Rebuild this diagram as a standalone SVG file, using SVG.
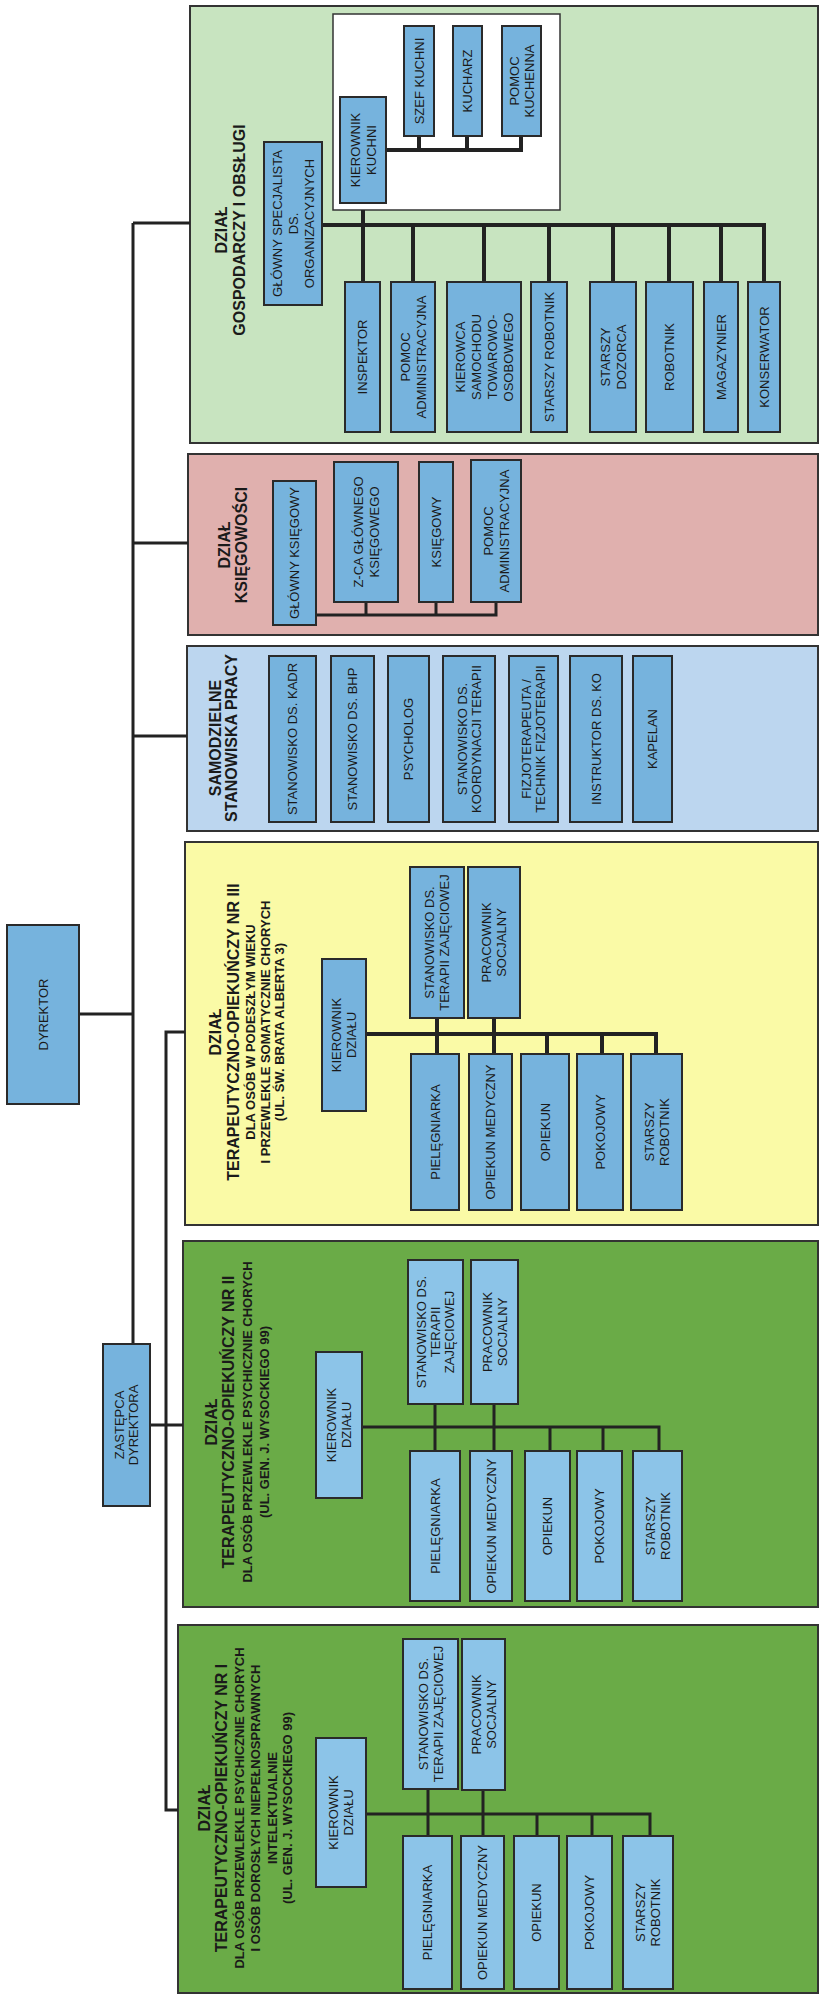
<svg xmlns="http://www.w3.org/2000/svg" width="820" height="1997" viewBox="0 0 820 1997">
<style>
.sec{stroke:#333;stroke-width:2}
.n{fill:#76b3dd;stroke:#2a2a2a;stroke-width:2}
.n2{fill:#8cc4e8;stroke:#2a2a2a;stroke-width:2}
.c{stroke:#222;stroke-width:3;fill:none}
.cb{stroke:#222;stroke-width:4;fill:none}
text{font-family:"Liberation Sans",Arial,sans-serif;fill:#1a1a1a;text-anchor:middle}
.t{font-size:13px}
.h{font-size:16px;font-weight:bold}
.s{font-size:13px;font-weight:bold}
</style>
<rect width="820" height="1997" fill="#ffffff"/>

<!-- section containers -->
<g id="sec-gospodarczy">
<rect class="sec" x="190" y="6" width="628" height="437" fill="#c8e4c0"/>
<text class="h" transform="translate(230,230) rotate(-90)"><tspan x="0" y="-3.2">DZIAŁ</tspan><tspan x="0" y="14.8">GOSPODARCZY I OBSŁUGI</tspan></text>
<rect x="333" y="14" width="227" height="196" fill="#ffffff" stroke="#333" stroke-width="1.5"/>
</g>
<g id="sec-ksiegowosci">
<rect class="sec" x="188" y="454" width="630" height="181" fill="#e0b0ae"/>
<text class="h" transform="translate(232,545) rotate(-90)"><tspan x="0" y="-2">DZIAŁ</tspan><tspan x="0" y="15">KSIĘGOWOŚCI</tspan></text>
</g>
<g id="sec-samodzielne">
<rect class="sec" x="187" y="646" width="631" height="185" fill="#bcd6ef"/>
<text class="h" transform="translate(223,738) rotate(-90)"><tspan x="0" y="-2.2">SAMODZIELNE</tspan><tspan x="0" y="13.8">STANOWISKA PRACY</tspan></text>
</g>
<g id="sec-nr3">
<rect class="sec" x="185" y="842" width="633" height="383" fill="#fafaa6"/>
<text transform="translate(240,1032) rotate(-90)"><tspan class="h" x="0" y="-19.2">DZIAŁ</tspan><tspan class="h" x="0" y="-1.2">TERAPEUTYCZNO-OPIEKUŃCZY NR III</tspan><tspan class="s" x="0" y="14.7">DLA OSÓB W PODESZŁYM WIEKU</tspan><tspan class="s" x="0" y="29.7">I PRZEWLEKLE SOMATYCZNIE CHORYCH</tspan><tspan class="s" x="0" y="43.7">(UL. ŚW. BRATA ALBERTA 3)</tspan></text>
</g>
<g id="sec-nr2">
<rect class="sec" x="183" y="1241" width="635" height="366" fill="#6aab47"/>
<text transform="translate(238,1422) rotate(-90)"><tspan class="h" x="0" y="-21.2">DZIAŁ</tspan><tspan class="h" x="0" y="-4.2">TERAPEUTYCZNO-OPIEKUŃCZY NR II</tspan><tspan class="s" x="0" y="13.7">DLA OSÓB PRZEWLEKLE PSYCHICZNIE CHORYCH</tspan><tspan class="s" x="0" y="30.7">(UL. GEN. J. WYSOCKIEGO 99)</tspan></text>
</g>
<g id="sec-nr1">
<rect class="sec" x="178" y="1625" width="640" height="368" fill="#6aab47"/>
<text transform="translate(246,1808) rotate(-90)"><tspan class="h" x="0" y="-35.7">DZIAŁ</tspan><tspan class="h" x="0" y="-19.2">TERAPEUTYCZNO-OPIEKUŃCZY NR I</tspan><tspan class="s" x="0" y="-2.3">DLA OSÓB PRZEWLEKLE PSYCHICZNIE CHORYCH</tspan><tspan class="s" x="0" y="13.7">I OSÓB DOROSŁYCH NIEPEŁNOSPRAWNYCH</tspan><tspan class="s" x="0" y="30.7">INTELEKTUALNIE</tspan><tspan class="s" x="0" y="45.7">(UL. GEN. J. WYSOCKIEGO 99)</tspan></text>
</g>

<!-- connectors -->
<g id="connectors">
<path class="c" d="M133,223 H190 M133,223 V1344 M133,543 H188 M133,736 H187 M79,1014 H133"/>
<path class="c" d="M185,1032 H166 V1810 H178 M150,1425 H183"/>
<path class="cb" d="M322,225 H764 V282 M363,210 V282 M413,225 V282 M484,225 V282 M549,225 V282 M613,225 V282 M669,225 V282 M721,225 V282"/>
<path class="cb" d="M386,150 H521 V136 M419,150 V136 M467,150 V136"/>
<path class="c" d="M316,615 H496 V602 M366,615 V602 M436,615 V602"/>
<path class="cb" d="M366,1034 H656 V1054 M437,1018 V1054 M494,1018 V1054 M547,1034 V1054 M602,1034 V1054"/>
<path class="c" d="M362,1427 H659 V1451 M435,1404 V1451 M494,1404 V1451 M550,1427 V1451 M603,1427 V1451"/>
<path class="c" d="M366,1814 H650 V1836 M428,1789 V1836 M483,1790 V1836 M537,1814 V1836 M592,1814 V1836"/>
</g>

<!-- top level -->
<g id="dyrektor"><rect class="n" x="7" y="925" width="72" height="179"/><text class="t" transform="translate(43,1014.5) rotate(-90)"><tspan x="0" y="4.7">DYREKTOR</tspan></text></g>
<g id="zastepca"><rect class="n" x="103" y="1344" width="47" height="162"/><text class="t" transform="translate(126.5,1425) rotate(-90)"><tspan x="0" y="-2.3">ZASTĘPCA</tspan><tspan x="0" y="11.7">DYREKTORA</tspan></text></g>

<!-- gospodarczy -->
<g id="g-specjalista"><rect class="n" x="264" y="142" width="58" height="163"/><text class="t" transform="translate(293,223.5) rotate(-90)"><tspan x="0" y="-11.3">GŁÓWNY SPECJALISTA</tspan><tspan x="0" y="4.7">DS.</tspan><tspan x="0" y="20.7">ORGANIZACYJNYCH</tspan></text></g>
<g id="g-kierownik-kuchni"><rect class="n" x="340" y="97" width="46" height="106"/><text class="t" transform="translate(363,150) rotate(-90)"><tspan x="0" y="-3.3">KIEROWNIK</tspan><tspan x="0" y="12.7">KUCHNI</tspan></text></g>
<g id="g-szef-kuchni"><rect class="n" x="404" y="26" width="30" height="110"/><text class="t" transform="translate(419,81) rotate(-90)"><tspan x="0" y="4.7">SZEF KUCHNI</tspan></text></g>
<g id="g-kucharz"><rect class="n" x="453" y="26" width="29" height="110"/><text class="t" transform="translate(467.5,81) rotate(-90)"><tspan x="0" y="4.7">KUCHARZ</tspan></text></g>
<g id="g-pomoc-kuchenna"><rect class="n" x="502" y="26" width="39" height="110"/><text class="t" transform="translate(521.5,81) rotate(-90)"><tspan x="0" y="-2.8">POMOC</tspan><tspan x="0" y="12.2">KUCHENNA</tspan></text></g>
<g id="g-inspektor"><rect class="n" x="345" y="282" width="35" height="150"/><text class="t" transform="translate(362.5,357) rotate(-90)"><tspan x="0" y="4.7">INSPEKTOR</tspan></text></g>
<g id="g-pomoc-adm"><rect class="n" x="391" y="282" width="44" height="150"/><text class="t" transform="translate(413,357) rotate(-90)"><tspan x="0" y="-3.3">POMOC</tspan><tspan x="0" y="12.7">ADMINISTRACYJNA</tspan></text></g>
<g id="g-kierowca"><rect class="n" x="447" y="282" width="74" height="150"/><text class="t" transform="translate(484,357) rotate(-90)"><tspan x="0" y="-19.3">KIEROWCA</tspan><tspan x="0" y="-3.3">SAMOCHODU</tspan><tspan x="0" y="12.7">TOWAROWO-</tspan><tspan x="0" y="28.7">OSOBOWEGO</tspan></text></g>
<g id="g-starszy-robotnik"><rect class="n" x="531" y="282" width="36" height="150"/><text class="t" transform="translate(549,357) rotate(-90)"><tspan x="0" y="4.7">STARSZY ROBOTNIK</tspan></text></g>
<g id="g-starszy-dozorca"><rect class="n" x="590" y="282" width="46" height="150"/><text class="t" transform="translate(613,357) rotate(-90)"><tspan x="0" y="-3.3">STARSZY</tspan><tspan x="0" y="12.7">DOZORCA</tspan></text></g>
<g id="g-robotnik"><rect class="n" x="646" y="282" width="47" height="150"/><text class="t" transform="translate(669.5,357) rotate(-90)"><tspan x="0" y="4.7">ROBOTNIK</tspan></text></g>
<g id="g-magazynier"><rect class="n" x="704" y="282" width="34" height="150"/><text class="t" transform="translate(721,357) rotate(-90)"><tspan x="0" y="4.7">MAGAZYNIER</tspan></text></g>
<g id="g-konserwator"><rect class="n" x="748" y="282" width="32" height="150"/><text class="t" transform="translate(764,357) rotate(-90)"><tspan x="0" y="4.7">KONSERWATOR</tspan></text></g>

<!-- ksiegowosc -->
<g id="k-glowny"><rect class="n" x="273" y="481" width="43" height="144"/><text class="t" transform="translate(294.5,553) rotate(-90)"><tspan x="0" y="4.7">GŁÓWNY KSIĘGOWY</tspan></text></g>
<g id="k-zca"><rect class="n" x="334" y="462" width="64" height="140"/><text class="t" transform="translate(366,532) rotate(-90)"><tspan x="0" y="-3.3">Z-CA GŁÓWNEGO</tspan><tspan x="0" y="12.7">KSIĘGOWEGO</tspan></text></g>
<g id="k-ksiegowy"><rect class="n" x="419" y="462" width="34" height="140"/><text class="t" transform="translate(436,532) rotate(-90)"><tspan x="0" y="4.7">KSIĘGOWY</tspan></text></g>
<g id="k-pomoc"><rect class="n" x="471" y="460" width="50" height="142"/><text class="t" transform="translate(496,531) rotate(-90)"><tspan x="0" y="-3.3">POMOC</tspan><tspan x="0" y="12.7">ADMINISTRACYJNA</tspan></text></g>

<!-- samodzielne -->
<g id="s-kadr"><rect class="n" x="269" y="656" width="47" height="166"/><text class="t" transform="translate(292.5,739) rotate(-90)"><tspan x="0" y="4.7">STANOWISKO DS. KADR</tspan></text></g>
<g id="s-bhp"><rect class="n" x="331" y="656" width="43" height="166"/><text class="t" transform="translate(352.5,739) rotate(-90)"><tspan x="0" y="4.7">STANOWISKO DS. BHP</tspan></text></g>
<g id="s-psycholog"><rect class="n" x="388" y="656" width="41" height="166"/><text class="t" transform="translate(408.5,739) rotate(-90)"><tspan x="0" y="4.7">PSYCHOLOG</tspan></text></g>
<g id="s-koordynacja"><rect class="n" x="443" y="656" width="52" height="166"/><text class="t" transform="translate(469,739) rotate(-90)"><tspan x="0" y="-2.3">STANOWISKO DS.</tspan><tspan x="0" y="11.7">KOORDYNACJI TERAPII</tspan></text></g>
<g id="s-fizjo"><rect class="n" x="509" y="656" width="49" height="166"/><text class="t" transform="translate(533.5,739) rotate(-90)"><tspan x="0" y="-2.3">FIZJOTERAPEUTA /</tspan><tspan x="0" y="11.7">TECHNIK FIZJOTERAPII</tspan></text></g>
<g id="s-instruktor"><rect class="n" x="570" y="656" width="52" height="166"/><text class="t" transform="translate(596,739) rotate(-90)"><tspan x="0" y="4.7">INSTRUKTOR DS. KO</tspan></text></g>
<g id="s-kapelan"><rect class="n" x="633" y="656" width="39" height="166"/><text class="t" transform="translate(652.5,739) rotate(-90)"><tspan x="0" y="4.7">KAPELAN</tspan></text></g>

<!-- nr III -->
<g id="d3-kierownik"><rect class="n" x="322" y="959" width="44" height="152"/><text class="t" transform="translate(344,1035) rotate(-90)"><tspan x="0" y="-2.8">KIEROWNIK</tspan><tspan x="0" y="12.2">DZIAŁU</tspan></text></g>
<g id="d3-terapia"><rect class="n" x="410" y="867" width="54" height="151"/><text class="t" transform="translate(437,942.5) rotate(-90)"><tspan x="0" y="-2.8">STANOWISKO DS.</tspan><tspan x="0" y="12.2">TERAPII ZAJĘCIOWEJ</tspan></text></g>
<g id="d3-socjalny"><rect class="n" x="468" y="867" width="52" height="151"/><text class="t" transform="translate(494,942.5) rotate(-90)"><tspan x="0" y="-2.8">PRACOWNIK</tspan><tspan x="0" y="12.2">SOCJALNY</tspan></text></g>
<g id="d3-pielegniarka"><rect class="n" x="411" y="1054" width="48" height="156"/><text class="t" transform="translate(435,1132) rotate(-90)"><tspan x="0" y="4.7">PIELĘGNIARKA</tspan></text></g>
<g id="d3-opiekun-med"><rect class="n" x="469" y="1054" width="43" height="156"/><text class="t" transform="translate(490.5,1132) rotate(-90)"><tspan x="0" y="4.7">OPIEKUN MEDYCZNY</tspan></text></g>
<g id="d3-opiekun"><rect class="n" x="521" y="1054" width="48" height="156"/><text class="t" transform="translate(545,1132) rotate(-90)"><tspan x="0" y="4.7">OPIEKUN</tspan></text></g>
<g id="d3-pokojowy"><rect class="n" x="577" y="1054" width="46" height="156"/><text class="t" transform="translate(600,1132) rotate(-90)"><tspan x="0" y="4.7">POKOJOWY</tspan></text></g>
<g id="d3-starszy"><rect class="n" x="631" y="1054" width="51" height="156"/><text class="t" transform="translate(656.5,1132) rotate(-90)"><tspan x="0" y="-2.8">STARSZY</tspan><tspan x="0" y="12.2">ROBOTNIK</tspan></text></g>

<!-- nr II -->
<g id="d2-kierownik"><rect class="n2" x="316" y="1352" width="46" height="146"/><text class="t" transform="translate(339,1425) rotate(-90)"><tspan x="0" y="-2.8">KIEROWNIK</tspan><tspan x="0" y="12.2">DZIAŁU</tspan></text></g>
<g id="d2-terapia"><rect class="n2" x="408" y="1260" width="55" height="144"/><text class="t" transform="translate(435.5,1332) rotate(-90)"><tspan x="0" y="-9.3">STANOWISKO DS.</tspan><tspan x="0" y="4.7">TERAPII</tspan><tspan x="0" y="18.7">ZAJĘCIOWEJ</tspan></text></g>
<g id="d2-socjalny"><rect class="n2" x="471" y="1260" width="47" height="144"/><text class="t" transform="translate(494.5,1332) rotate(-90)"><tspan x="0" y="-2.8">PRACOWNIK</tspan><tspan x="0" y="12.2">SOCJALNY</tspan></text></g>
<g id="d2-pielegniarka"><rect class="n2" x="410" y="1451" width="50" height="150"/><text class="t" transform="translate(435,1526) rotate(-90)"><tspan x="0" y="4.7">PIELĘGNIARKA</tspan></text></g>
<g id="d2-opiekun-med"><rect class="n2" x="470" y="1451" width="42" height="150"/><text class="t" transform="translate(491,1526) rotate(-90)"><tspan x="0" y="4.7">OPIEKUN MEDYCZNY</tspan></text></g>
<g id="d2-opiekun"><rect class="n2" x="525" y="1451" width="45" height="150"/><text class="t" transform="translate(547.5,1526) rotate(-90)"><tspan x="0" y="4.7">OPIEKUN</tspan></text></g>
<g id="d2-pokojowy"><rect class="n2" x="577" y="1451" width="45" height="150"/><text class="t" transform="translate(599.5,1526) rotate(-90)"><tspan x="0" y="4.7">POKOJOWY</tspan></text></g>
<g id="d2-starszy"><rect class="n2" x="633" y="1451" width="49" height="150"/><text class="t" transform="translate(657.5,1526) rotate(-90)"><tspan x="0" y="-2.8">STARSZY</tspan><tspan x="0" y="12.2">ROBOTNIK</tspan></text></g>

<!-- nr I -->
<g id="d1-kierownik"><rect class="n2" x="316" y="1738" width="50" height="149"/><text class="t" transform="translate(341,1812.5) rotate(-90)"><tspan x="0" y="-2.8">KIEROWNIK</tspan><tspan x="0" y="12.2">DZIAŁU</tspan></text></g>
<g id="d1-terapia"><rect class="n2" x="403" y="1639" width="55" height="150"/><text class="t" transform="translate(430.5,1714) rotate(-90)"><tspan x="0" y="-2.8">STANOWISKO DS.</tspan><tspan x="0" y="12.2">TERAPII ZAJĘCIOWEJ</tspan></text></g>
<g id="d1-socjalny"><rect class="n2" x="462" y="1639" width="43" height="151"/><text class="t" transform="translate(483.5,1714.5) rotate(-90)"><tspan x="0" y="-2.8">PRACOWNIK</tspan><tspan x="0" y="12.2">SOCJALNY</tspan></text></g>
<g id="d1-pielegniarka"><rect class="n2" x="403" y="1836" width="49" height="153"/><text class="t" transform="translate(427.5,1912.5) rotate(-90)"><tspan x="0" y="4.7">PIELĘGNIARKA</tspan></text></g>
<g id="d1-opiekun-med"><rect class="n2" x="461" y="1836" width="43" height="153"/><text class="t" transform="translate(482.5,1912.5) rotate(-90)"><tspan x="0" y="4.7">OPIEKUN MEDYCZNY</tspan></text></g>
<g id="d1-opiekun"><rect class="n2" x="514" y="1836" width="45" height="153"/><text class="t" transform="translate(536.5,1912.5) rotate(-90)"><tspan x="0" y="4.7">OPIEKUN</tspan></text></g>
<g id="d1-pokojowy"><rect class="n2" x="567" y="1836" width="45" height="153"/><text class="t" transform="translate(589.5,1912.5) rotate(-90)"><tspan x="0" y="4.7">POKOJOWY</tspan></text></g>
<g id="d1-starszy"><rect class="n2" x="623" y="1836" width="50" height="153"/><text class="t" transform="translate(648,1912.5) rotate(-90)"><tspan x="0" y="-2.8">STARSZY</tspan><tspan x="0" y="12.2">ROBOTNIK</tspan></text></g>
</svg>
